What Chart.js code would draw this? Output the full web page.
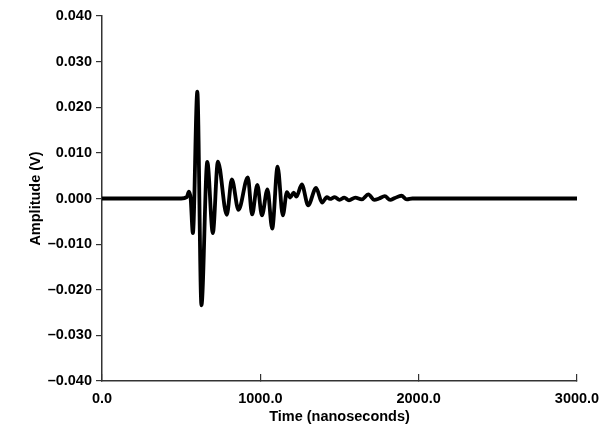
<!DOCTYPE html>
<html>
<head>
<meta charset="utf-8">
<script src="https://cdn.jsdelivr.net/npm/chart.js@4/dist/chart.umd.min.js"></script>
<style>
  html, body { margin: 0; padding: 0; background: #fff; }
  #wrap { width: 603px; height: 433px; position: relative; }
</style>
</head>
<body>
<div id="wrap"><canvas id="waveChart"></canvas></div>
<script>
// Waveform: time in ns, amplitude in volts (peaks and troughs)
const timeNs = [
    0, 500, 535, 549, 560, 574, 602, 628, 665, 700,
    732, 788, 820, 862, 921, 948, 981, 1010, 1045, 1075,
    1109, 1142, 1168, 1189, 1210, 1228, 1262, 1302, 1352, 1390,
    1420, 1440, 1470, 1500, 1530, 1560, 1600, 1640, 1682, 1720,
    1750, 1786, 1820, 1850, 1891, 1925, 1960, 3000
];
const amplitudeV = [
    0, 0, 0.0003, 0.0015, 0.0, -0.0076, 0.0234, -0.0234, 0.0080, -0.0076,
    0.0081, -0.0036, 0.0042, -0.0025, 0.0046, -0.0035, 0.0030, -0.0037, 0.0020, -0.0066,
    0.0070, -0.0037, 0.0014, 0.0002, 0.0013, 0.0004, 0.0031, -0.0015, 0.0023, -0.0009,
    0.0003, -0.0001, 0.0003, -0.0003, 0.0002, -0.0004, 0.0002, -0.0002, 0.0009, -0.0003,
    0.0000, 0.0005, -0.0003, 0.0001, 0.0006, -0.0002, 0, 0
];

const xTicks = [0, 1000, 2000, 3000];
const yTicks = [-0.04, -0.03, -0.02, -0.01, 0, 0.01, 0.02, 0.03, 0.04];

const labelFont = "'Liberation Sans', Arial, sans-serif";
const axisColor = '#333';

const points = timeNs.map((t, i) => ({ x: t, y: amplitudeV[i] }));

const ctx = document.getElementById('waveChart');

new Chart(ctx, {
    type: 'line',
    data: {
        datasets: [{
            label: 'Amplitude',
            data: points,
            borderColor: '#000',
            borderWidth: 3.8,
            pointRadius: 0,
            fill: false,
            cubicInterpolationMode: 'monotone',
        }]
    },
    options: {
        responsive: true,
        maintainAspectRatio: false,
        animation: false,
        layout: {
            padding: { top: 16, right: 26, left: 0, bottom: 0 }
        },
        plugins: {
            legend: { display: false },
            tooltip: { enabled: false }
        },
        scales: {
            x: {
                type: 'linear',
                min: 0,
                max: 3000,
                afterBuildTicks: scale => {
                    scale.ticks = xTicks.map(v => ({ value: v }));
                },
                afterFit: scale => {
                    scale.height = 52;
                    scale.paddingLeft = 0;
                    scale.paddingRight = 0;
                },
                border: { color: axisColor, width: 1.5 },
                grid: {
                    drawOnChartArea: false,
                    color: axisColor,
                    lineWidth: 1.2,
                    tickLength: -7,
                },
                ticks: {
                    color: '#000',
                    padding: 16,
                    maxRotation: 0,
                    font: { family: labelFont, size: 14.5, weight: 'bold' },
                    callback: val => Number(val).toFixed(1)
                },
                title: {
                    display: true,
                    text: 'Time (nanoseconds)',
                    color: '#000',
                    padding: { top: 0, bottom: 7 },
                    font: { family: labelFont, size: 14.5, weight: 'bold' }
                }
            },
            y: {
                min: -0.04,
                max: 0.04,
                afterBuildTicks: scale => {
                    scale.ticks = yTicks.map(v => ({ value: v }));
                },
                afterFit: scale => {
                    scale.width = 102;
                    scale.paddingTop = 0;
                    scale.paddingBottom = 0;
                },
                border: { color: axisColor, width: 1.5 },
                grid: {
                    drawOnChartArea: false,
                    color: axisColor,
                    lineWidth: 1.2,
                    tickLength: 6,
                },
                ticks: {
                    color: '#000',
                    padding: 4,
                    font: { family: labelFont, size: 14.5, weight: 'bold' },
                    callback: val => {
                        const s = Math.abs(val).toFixed(3);
                        return val < -1e-9 ? '\u2013' + s : s;
                    }
                },
                title: {
                    display: true,
                    text: 'Amplitude (V)',
                    color: '#000',
                    padding: { top: 27, bottom: 0 },
                    font: { family: labelFont, size: 14.5, weight: 'bold' }
                }
            }
        }
    }
});
</script>
</body>
</html>
